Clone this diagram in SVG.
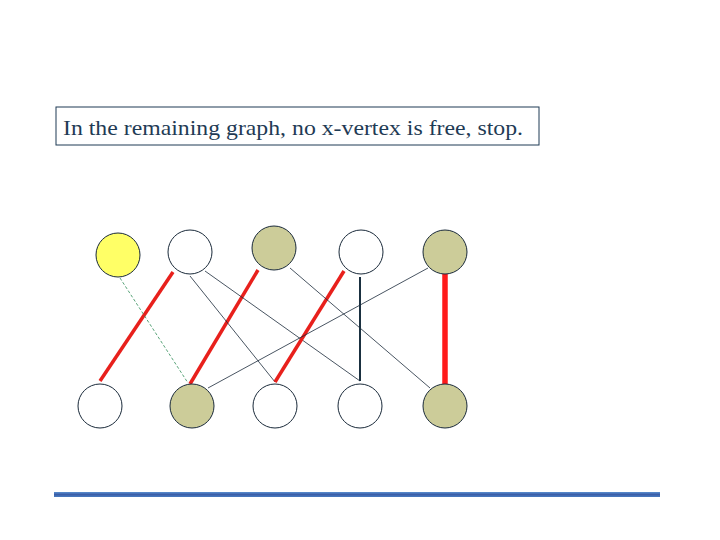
<svg xmlns="http://www.w3.org/2000/svg" width="720" height="540" viewBox="0 0 720 540">
<defs><linearGradient id="bar" x1="0" y1="0" x2="0" y2="1"><stop offset="0" stop-color="#5a8fd0"/><stop offset="0.5" stop-color="#3a5ea8"/><stop offset="1" stop-color="#4a7cc0"/></linearGradient></defs>
<style>
.n{stroke:#1a2a3a;stroke-width:1}
.w{fill:#fff}.o{fill:#cccc99}.y{fill:#ffff66}
.t{stroke:#1a2a3a;stroke-width:0.8}
.r{stroke:#e8201c;stroke-width:3.5}
</style>
<rect x="0" y="0" width="720" height="540" fill="#fff"/>
<g id="label"><rect x="56" y="107" width="483" height="38" fill="#fff" stroke="#1f3b55" stroke-width="1"/>
<text x="63" y="135" font-family="Liberation Serif, serif" font-size="22" textLength="460" lengthAdjust="spacingAndGlyphs" fill="#1f3b55">In the remaining graph, no x-vertex is free, stop.</text></g>
<g id="connectors" fill="none">
<line class="r" x1="173" y1="272" x2="100" y2="381"/>
<line x1="120" y1="278" x2="188" y2="383" stroke="#2e8b57" stroke-width="0.8" stroke-dasharray="3,2"/>
<line class="r" x1="258" y1="270" x2="190" y2="384"/>
<line class="t" x1="190" y1="276" x2="275" y2="382"/>
<line class="t" x1="205" y1="271" x2="360" y2="381"/>
<line class="r" x1="344" y1="271" x2="275" y2="382"/>
<line class="t" x1="290" y1="268" x2="430" y2="388"/>
<line x1="360" y1="277" x2="360" y2="381" stroke="#1a3040" stroke-width="2"/>
<line class="t" x1="428" y1="268" x2="208" y2="388"/>
<line x1="445" y1="274" x2="445" y2="384" stroke="#ff1a1a" stroke-width="5.5"/>
</g>
<g id="x1"><circle class="n y" cx="118" cy="255" r="22"/></g>
<g id="x2"><circle class="n w" cx="190" cy="252" r="22"/></g>
<g id="x3"><circle class="n o" cx="274" cy="248" r="22"/></g>
<g id="x4"><circle class="n w" cx="361" cy="252" r="22"/></g>
<g id="x5"><circle class="n o" cx="445" cy="252" r="22"/></g>
<g id="y1"><circle class="n w" cx="100" cy="406" r="22"/></g>
<g id="y2"><circle class="n o" cx="192" cy="406" r="22"/></g>
<g id="y3"><circle class="n w" cx="275" cy="406" r="22"/></g>
<g id="y4"><circle class="n w" cx="360" cy="406" r="22"/></g>
<g id="y5"><circle class="n o" cx="445" cy="406" r="22"/></g>
<g id="footer"><rect x="54" y="492" width="606" height="5" fill="url(#bar)"/></g>
</svg>
